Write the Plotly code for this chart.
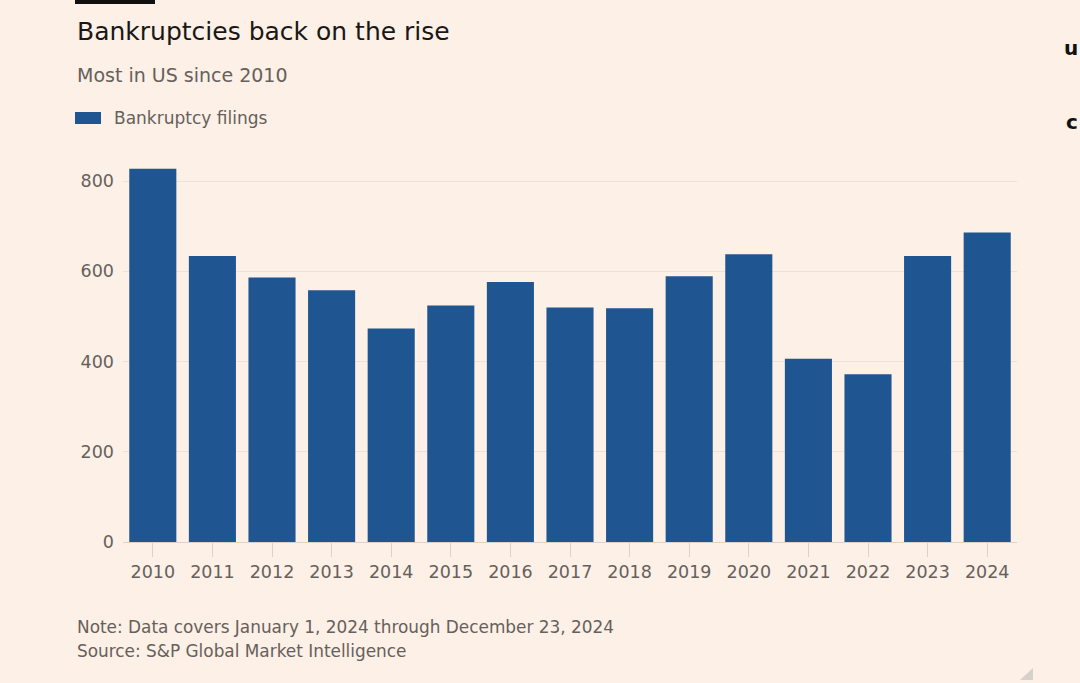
import plotly.graph_objects as go

years = ["2010", "2011", "2012", "2013", "2014", "2015", "2016", "2017",
         "2018", "2019", "2020", "2021", "2022", "2023", "2024"]
filings = [827, 634, 586, 558, 473, 524, 576, 520, 518, 589, 638, 406, 372, 634, 686]
y_ticks = [0, 200, 400, 600, 800]

title = "Bankruptcies back on the rise"
subtitle = "Most in US since 2010"
legend_label = "Bankruptcy filings"
note = "Note: Data covers January 1, 2024 through December 23, 2024"
source = "Source: S&P Global Market Intelligence"

BG = "#FDF0E6"
BAR = "#1F5591"
GREY = "#66605C"
FONT = "DejaVu Sans"

W, H = 1080, 683
L, R, T, B = 123, 63, 163, 141
PW, PH = W - L - R, H - T - B


def px(x):
    return (x - L) / PW


def py(y):
    return (H - B - y) / PH


fig = go.Figure(go.Bar(
    x=years, y=filings, name=legend_label,
    marker=dict(color=BAR, line=dict(width=0)),
    showlegend=False,
))

fig.update_layout(
    width=W, height=H,
    margin=dict(l=L, r=R, t=T, b=B, autoexpand=False),
    paper_bgcolor=BG, plot_bgcolor=BG,
    bargap=0.21,
    font=dict(family=FONT, color=GREY, size=17.5),
    xaxis=dict(
        showgrid=False, ticks="outside", ticklen=14, tickcolor="#DDD2C8",
        tickwidth=1, showline=True, linecolor="#DDD2C8", linewidth=1,
        tickfont=dict(size=17.5, color=GREY), zeroline=False,
    ),
    yaxis=dict(
        range=[0, 840], tickvals=y_ticks, showgrid=True, gridcolor="#EDE2D8",
        gridwidth=1, zeroline=False, showline=False, ticks="",
        tickfont=dict(size=17.5, color=GREY), ticklabelstandoff=8,
    ),
)

ann = [
    dict(text=title, x=px(75), y=py(31), font=dict(size=25, color="#1A1816")),
    dict(text=subtitle, x=px(75), y=py(75), font=dict(size=19, color=GREY)),
    dict(text=legend_label, x=px(112), y=py(118), font=dict(size=17, color=GREY)),
    dict(text=note, x=px(75), y=py(627), font=dict(size=16.9, color=GREY)),
    dict(text=source, x=px(75), y=py(651), font=dict(size=16.9, color=GREY)),
]
annotations = []
for a in ann:
    a.update(xref="paper", yref="paper", xanchor="left", yanchor="middle",
             showarrow=False)
    annotations.append(a)
# fragments of text visible at the right edge of the screenshot
for ch, yy in [("u", 48), ("c", 122)]:
    annotations.append(dict(text="<b>" + ch + "</b>", x=px(1080), y=py(yy),
                            xref="paper", yref="paper",
                            xanchor="right", yanchor="middle", showarrow=False,
                            font=dict(size=20, color="#111111")))
fig.update_layout(annotations=annotations)

shapes = [
    dict(type="rect", xref="paper", yref="paper", x0=px(75), x1=px(101),
         y0=py(124), y1=py(112), fillcolor=BAR, line=dict(width=0)),
    dict(type="rect", xref="paper", yref="paper", x0=px(75), x1=px(155),
         y0=py(4), y1=py(0), fillcolor="#111111", line=dict(width=0)),
    dict(type="path", xref="paper", yref="paper",
         path=f"M {px(1033)} {py(668)} L {px(1033)} {py(680)} L {px(1020)} {py(680)} Z",
         fillcolor="#D8D0CA", line=dict(width=0)),
]
fig.update_layout(shapes=shapes)

fig.write_html("out.html", config={"displayModeBar": False},
               post_script="document.body.style.margin='0';document.body.style.overflow='hidden';")
